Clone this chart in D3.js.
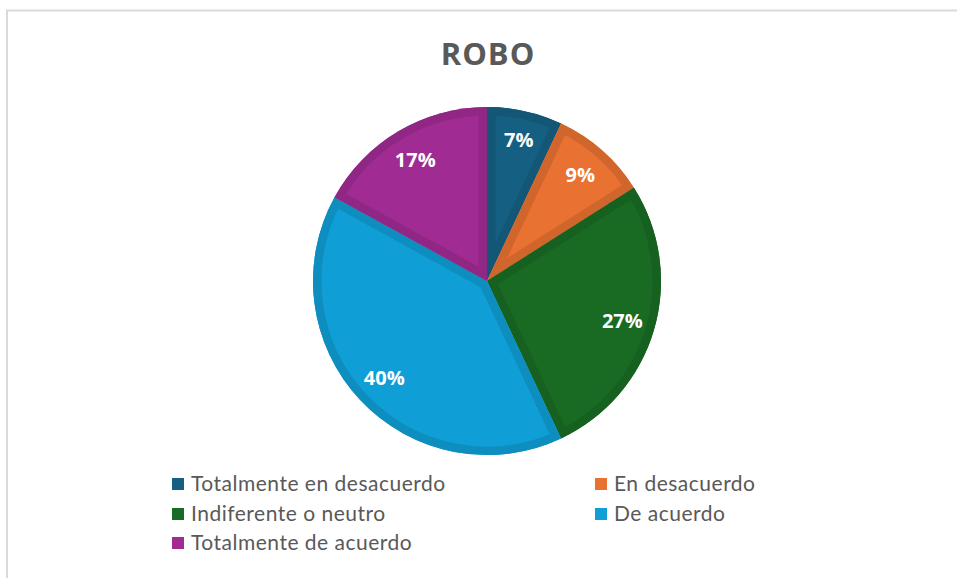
<!DOCTYPE html>
<html>
<head>
<meta charset="utf-8">
<script src="https://cdn.jsdelivr.net/npm/d3@7"></script>
<style>
  body { margin: 0; background: #fff; }
  #chart { width: 957px; height: 578px; }
</style>
</head>
<body>
<div id="chart"></div>
<script>
// data
const categories = ["Totalmente en desacuerdo", "En desacuerdo", "Indiferente o neutro", "De acuerdo", "Totalmente de acuerdo"];
const values = [7, 9, 27, 40, 17];
const colors = ["#156082", "#e97132", "#196b24", "#0f9ed5", "#a02b93"];

const width = 957, height = 578;
const cx = 487, cy = 281, radius = 174;

const svg = d3.select("#chart")
  .append("svg")
  .attr("width", width)
  .attr("height", height);

// chart frame (only top and left edges show)
svg.append("rect")
  .attr("x", 7)
  .attr("y", 10.5)
  .attr("width", width + 20)
  .attr("height", height + 20)
  .attr("fill", "none")
  .attr("stroke", "#d9d9d9")
  .attr("stroke-width", 2);

svg.append("text")
  .attr("x", 488)
  .attr("y", 65)
  .attr("text-anchor", "middle")
  .style("font-family", "'Open Sans', sans-serif")
  .style("font-weight", "bold")
  .style("font-size", "31px")
  .style("letter-spacing", "1px")
  .style("fill", "#595959")
  .text("ROBO");

const pie = d3.pie().sort(null).value(d => d)(values);
const arc = d3.arc().innerRadius(0).outerRadius(radius);
const labelArc = d3.arc().innerRadius(radius * 0.81).outerRadius(radius * 0.81);

const defs = svg.append("defs");
const g = svg.append("g").attr("transform", `translate(${cx},${cy})`);

pie.forEach((d, i) => {
  defs.append("clipPath")
    .attr("id", "clip-" + i)
    .append("path")
    .attr("d", arc(d));

  g.append("path")
    .attr("d", arc(d))
    .attr("fill", colors[i]);

  // darker inner edge of each slice
  g.append("path")
    .attr("d", arc(d))
    .attr("fill", "none")
    .attr("stroke", d3.color(colors[i]).darker(0.3))
    .attr("stroke-width", 17)
    .attr("stroke-linejoin", "round")
    .attr("clip-path", `url(#clip-${i})`);
});

g.selectAll("text.lbl")
  .data(pie)
  .join("text")
  .attr("class", "lbl")
  .attr("transform", d => {
    const [x, y] = labelArc.centroid(d);
    // Excel nudges the small first label a bit further out
    const k = d.index === 0 ? 1.03 : 1;
    return `translate(${x * k},${y * k})`;
  })
  .attr("text-anchor", "middle")
  .attr("dy", "0.36em")
  .style("font-family", "'Open Sans', sans-serif")
  .style("font-weight", "bold")
  .style("font-size", "20px")
  .style("fill", "#fff")
  .text(d => d.data + "%");

// legend, two columns
const legendCols = [172, 595];
const legendRows = [484, 514, 543];
const legend = svg.append("g");
categories.forEach((c, i) => {
  const x = legendCols[i % 2], y = legendRows[Math.floor(i / 2)];
  legend.append("rect")
    .attr("x", x)
    .attr("y", y - 6)
    .attr("width", 12)
    .attr("height", 12)
    .attr("fill", colors[i]);
  legend.append("text")
    .attr("x", x + 19)
    .attr("y", y)
    .attr("dy", "0.35em")
    .style("font-family", "Lato, sans-serif")
    .style("font-size", "21px")
    .style("letter-spacing", "0.5px")
    .style("fill", "#595959")
    .text(c);
});
</script>
</body>
</html>
